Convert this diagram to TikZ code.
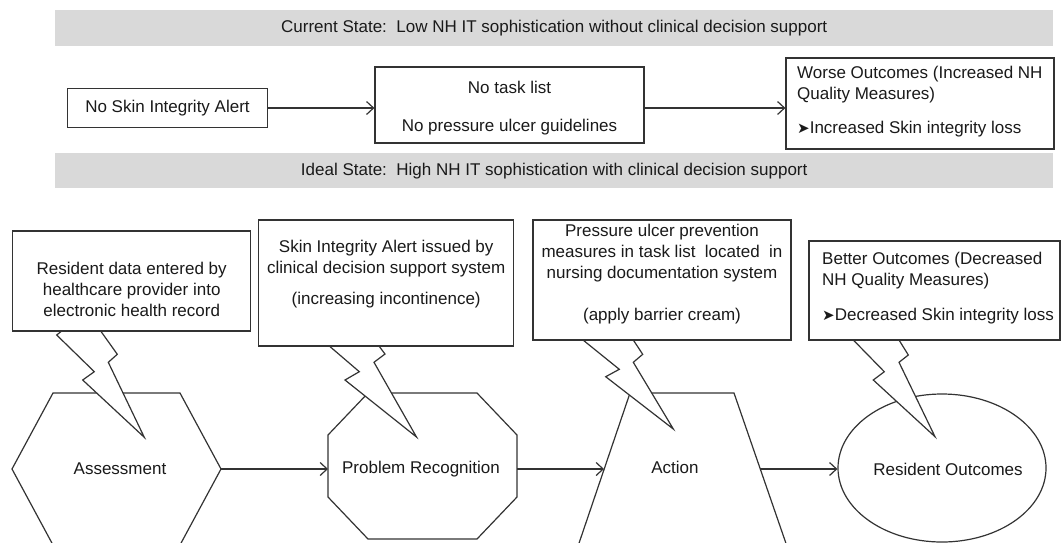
\documentclass[tikz,border=0pt]{standalone}
\usepackage{fontspec}
\setmainfont{Liberation Sans}
\newfontfamily\dejavu{DejaVu Sans}
\usetikzlibrary{arrows.meta,shapes.geometric}
\definecolor{linec}{HTML}{333333}
\definecolor{barc}{HTML}{D9D9D9}
\definecolor{txtc}{HTML}{1A1A1A}
\newcommand{\bulletarrow}{{\dejavu\fontsize{15}{21}\selectfont ➤}}
\tikzset{
  ln/.style={draw=linec, line width=1.2pt, line join=miter},
  boxnode/.style={ln, fill=white, rectangle, inner sep=0pt},
  barnode/.style={fill=barc, rectangle, inner sep=0pt, text=txtc, font=\fontsize{17}{21}\selectfont},
  arr/.style={ln, -{Straight Barb[length=7pt,width=13pt,line width=1.2pt]}},
  txt/.style={font=\fontsize{17}{21}\selectfont, text=txtc, inner sep=0pt, align=center},
  bolt/.style={fill=white},
}
\begin{document}
\begin{tikzpicture}[x=1pt,y=-1pt]
\useasboundingbox (0,0) rectangle (1062,542);
\clip (0,0) rectangle (1062,542);
\fill[white] (0,0) rectangle (1062,542);

% ---------- Current state ----------
\node[barnode, minimum width=998pt, minimum height=36pt, anchor=north west] (cur) at (55,10)
  {Current State:\ \ Low NH IT sophistication without clinical decision support};

\node[boxnode, minimum width=200pt, minimum height=39pt] (na) at (167.5,108) {};
\node[txt] (nat) at (na.center) {No Skin Integrity Alert};

\node[boxnode, minimum width=269pt, minimum height=76pt] (nb) at (509.5,105) {};
\node[txt] (nbt) at (509.5,108) {No task list\\[17pt]No pressure ulcer guidelines};

\node[boxnode, minimum width=268pt, minimum height=91pt] (nc) at (920,103.5) {};
\node[txt, align=left, anchor=north west] (nct) at (797,66)
  {Worse Outcomes (Increased NH\\Quality Measures)\\[13pt]\bulletarrow Increased Skin integrity loss};

\draw[arr] (na.east) -- (nb.west |- na.east);
\draw[arr] (nb.east |- na.east) -- (nc.west |- na.east);

% ---------- Ideal state ----------
\node[barnode, minimum width=998pt, minimum height=35pt, anchor=north west] (ide) at (55,153)
  {Ideal State:\ \ High NH IT sophistication with clinical decision support};

% shape vertices
\coordinate (hTL) at (53,393);  \coordinate (hTR) at (180,393);
\coordinate (hR)  at (221,469); \coordinate (hBR) at (180,545);
\coordinate (hBL) at (53,545);  \coordinate (hL)  at (12,469);

\coordinate (o1) at (368,393); \coordinate (o2) at (477,393);
\coordinate (o3) at (517,435); \coordinate (o4) at (517,497);
\coordinate (o5) at (477,539); \coordinate (o6) at (368,539);
\coordinate (o7) at (328,497); \coordinate (o8) at (328,435);
\coordinate (oL) at (328,469); \coordinate (oR) at (517,469);

\coordinate (tTL) at (630,393); \coordinate (tTR) at (734,393);
\coordinate (tBR) at (790,555); \coordinate (tBL) at (575,555);
\coordinate (tL) at (604,469);  \coordinate (tR) at (760,469);

% shapes
\draw[ln] (hTL) -- (hTR) -- (hR) -- (hBR) -- (hBL) -- (hL) -- cycle;
\draw[ln] (o1) -- (o2) -- (o3) -- (o4) -- (o5) -- (o6) -- (o7) -- (o8) -- cycle;
\draw[ln] (tTL) -- (tTR) -- (tBR) -- (tBL) -- cycle;
\node[ln, ellipse, minimum width=208pt, minimum height=148pt, inner sep=0pt] (ro) at (942,468) {};

\node[txt] (as) at (120,469) {Assessment};
\node[txt] (pr) at (421,469) {Problem Recognition};
\node[txt] (ac) at (675,467) {Action};
\node[txt] (rot) at (948,469) {Resident Outcomes};

% connectors
\draw[arr] (hR) -- (oL);
\draw[arr] (oR) -- (tL);
\draw[arr] (tR) -- (tR -| ro.west);

% lightning callouts
\fill[bolt] (61.7,331) -- (56.7,335) -- (94.3,371.7) -- (82.7,380) -- (144.3,437.3) -- (108.3,362.3) -- (117.3,354.3) -- (100.7,331) -- cycle;
\draw[ln] (61.7,331) -- (56.7,335) -- (94.3,371.7) -- (82.7,380) -- (144.3,437.3) -- (108.3,362.3) -- (117.3,354.3) -- (100.7,331);

\fill[bolt] (329.3,346) -- (359.3,371.7) -- (345,380) -- (416.5,437) -- (374,362.3) -- (385,354) -- (379,346) -- cycle;
\draw[ln] (329.3,346) -- (359.3,371.7) -- (345,380) -- (416.5,437) -- (374,362.3) -- (385,354) -- (379,346);

\fill[bolt] (583,340) -- (619.3,369.3) -- (605.7,376.7) -- (673.3,429) -- (633.3,362.3) -- (642.7,354.3) -- (633.3,340) -- cycle;
\draw[ln] (583,340) -- (619.3,369.3) -- (605.7,376.7) -- (673.3,429) -- (633.3,362.3) -- (642.7,354.3) -- (633.3,340);

\fill[bolt] (853.3,340) -- (884.3,371.7) -- (873.3,380) -- (935,436.7) -- (899,362.3) -- (908.3,355) -- (899,340) -- cycle;
\draw[ln] (853.3,340) -- (884.3,371.7) -- (873.3,380) -- (935,436.7) -- (899,362.3) -- (908.3,355) -- (899,340);

% callout boxes
\node[boxnode, minimum width=238pt, minimum height=100pt] (b1) at (131.7,281) {};
\node[txt] (b1t) at (131.7,289) {Resident data entered by\\healthcare provider into\\electronic health record};

\node[boxnode, minimum width=255pt, minimum height=126pt] (b2) at (386.2,283) {};
\node[txt] (b2t) at (386.2,274) {Skin Integrity Alert issued by\\clinical decision support system\\[10pt](increasing incontinence)};

\node[boxnode, minimum width=258pt, minimum height=120pt] (b3) at (662,280) {};
\node[txt] (b3t) at (662,274) {Pressure ulcer prevention\\measures in task list\ \ located\ \ in\\nursing documentation system\\[21pt](apply barrier cream)};

\node[boxnode, minimum width=251pt, minimum height=99pt] (b4) at (934.5,290.5) {};
\node[txt, align=left, anchor=west] (b4t) at (822,288)
  {Better Outcomes (Decreased\\NH Quality Measures)\\[14pt]\bulletarrow Decreased Skin integrity loss};
\end{tikzpicture}
\end{document}
